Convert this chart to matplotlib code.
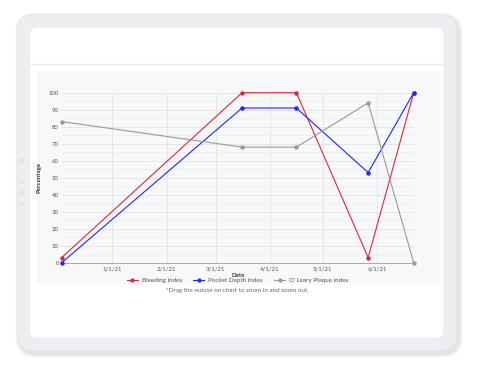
import numpy as np
import pandas as pd
import matplotlib
matplotlib.use('Agg')
import matplotlib.pyplot as plt
import matplotlib.dates as mdates
from matplotlib.patches import FancyBboxPatch, Rectangle, Circle
from matplotlib.lines import Line2D

plt.rcParams['font.family'] = ['Lato', 'DejaVu Sans']

# data
dates = pd.to_datetime(['2020-12-03', '2021-03-16', '2021-04-16', '2021-05-27', '2021-06-22'])
bleeding = [3, 100, 100, 3, 100]
pocket_depth = [0, 91, 91, 53, 100]
oleary_plaque = [83, 68, 68, 94, 0]
tick_dates = pd.to_datetime(['2021-01-01', '2021-02-01', '2021-03-01', '2021-04-01', '2021-05-01', '2021-06-01'])
tick_labels = ['1/1/21', '2/1/21', '3/1/21', '4/1/21', '5/1/21', '6/1/21']

W, H = 484, 372
fig = plt.figure(figsize=(W / 100, H / 100), dpi=100)
fig.patch.set_facecolor('white')

# background axes in pixel coordinates for the tablet mockup
bg = fig.add_axes([0, 0, 1, 1])
bg.set_xlim(0, W)
bg.set_ylim(H, 0)
bg.axis('off')

# soft shadow
for i, a in enumerate([0.035, 0.03, 0.025, 0.02]):
    d = 2 + i * 2
    bg.add_patch(FancyBboxPatch((17 + 2 - d / 2, 14 + 3 - d / 2), 440 + d, 337 + d,
                                boxstyle='round,pad=0,rounding_size=%d' % (17 + d / 2),
                                fc='#000000', ec='none', alpha=a))
# tablet frame
bg.add_patch(FancyBboxPatch((17, 14), 440, 337, boxstyle='round,pad=0,rounding_size=17',
                            fc='#eeeef2', ec='#e2e2e8', lw=0.6))
# screen
bg.add_patch(FancyBboxPatch((30, 28), 413.5, 309.5, boxstyle='round,pad=0,rounding_size=7',
                            fc='white', ec='none'))
bg.plot([30, 443.5], [64, 64], color='#ececf0', lw=1.0)
# chart panel
bg.add_patch(Rectangle((37, 71), 402.5, 213, fc='#f7f8fa', ec='none'))
# side buttons
for y, r in [(160.7, 2.8), (171.7, 0.7), (181.7, 1.8), (192.7, 2.6), (203.3, 2.2)]:
    bg.add_patch(Circle((21.5, y), r, fc='#e2e2e7', ec='none'))

# chart axes
left, right, top, bottom = 61.7, 413.7, 92.7, 262.7
ax = fig.add_axes([left / W, 1 - bottom / H, (right - left) / W, (bottom - top) / H])
ax.set_facecolor('none')
ax.set_xlim(dates[0], dates[-1])
ax.set_ylim(0, 100)

ax.set_yticks(np.arange(0, 101, 10))
ax.set_yticks(np.arange(5, 100, 10), minor=True)
ax.set_xticks(tick_dates)
ax.set_xticklabels(tick_labels)
ax.tick_params(axis='both', which='both', length=0, labelsize=4.3, colors='#555555')
ax.tick_params(axis='x', pad=2.5)
ax.tick_params(axis='y', pad=2)
ax.grid(True, which='major', color='#e3e3e6', lw=0.6)
ax.grid(True, which='minor', axis='y', color='#ececee', lw=0.5)
for s in ['top', 'right', 'left']:
    ax.spines[s].set_visible(False)
ax.spines['bottom'].set_color('#a8a8a8')
ax.spines['bottom'].set_linewidth(0.7)

series = [(bleeding, '#d8283c', 'Bleeding index'),
          (pocket_depth, '#2323ff', 'Pocket Depth index'),
          (oleary_plaque, '#999999', "O`Leary Plaque index")]
for vals, c, name in series:
    ax.plot(dates, vals, color=c, lw=0.8, marker='o', ms=2.2, mec=c, mfc=c,
            clip_on=False, zorder=3)

ax.set_ylabel('Percentage', fontsize=4.4, fontweight='bold', color='#333333', labelpad=5)
ax.set_xlabel('Date', fontsize=4.4, fontweight='bold', color='#333333', labelpad=1.5)

handles = [Line2D([], [], color=c, lw=0.8, marker='o', ms=2.0) for _, c, _ in series]
fig.legend(handles, [n for _, _, n in series], loc='center',
           bbox_to_anchor=(237.5 / W, 1 - 280.7 / H), ncol=3, frameon=False,
           fontsize=4.5, handlelength=1.8, columnspacing=1.8, handletextpad=0.6,
           labelcolor='#555555')
fig.text(237.5 / W, 1 - 290.5 / H, '*Drag the mouse on chart to zoom in and zoom out.',
         ha='center', va='center', fontsize=4.5, color='#666666')

fig.savefig('out.png', dpi=100)
